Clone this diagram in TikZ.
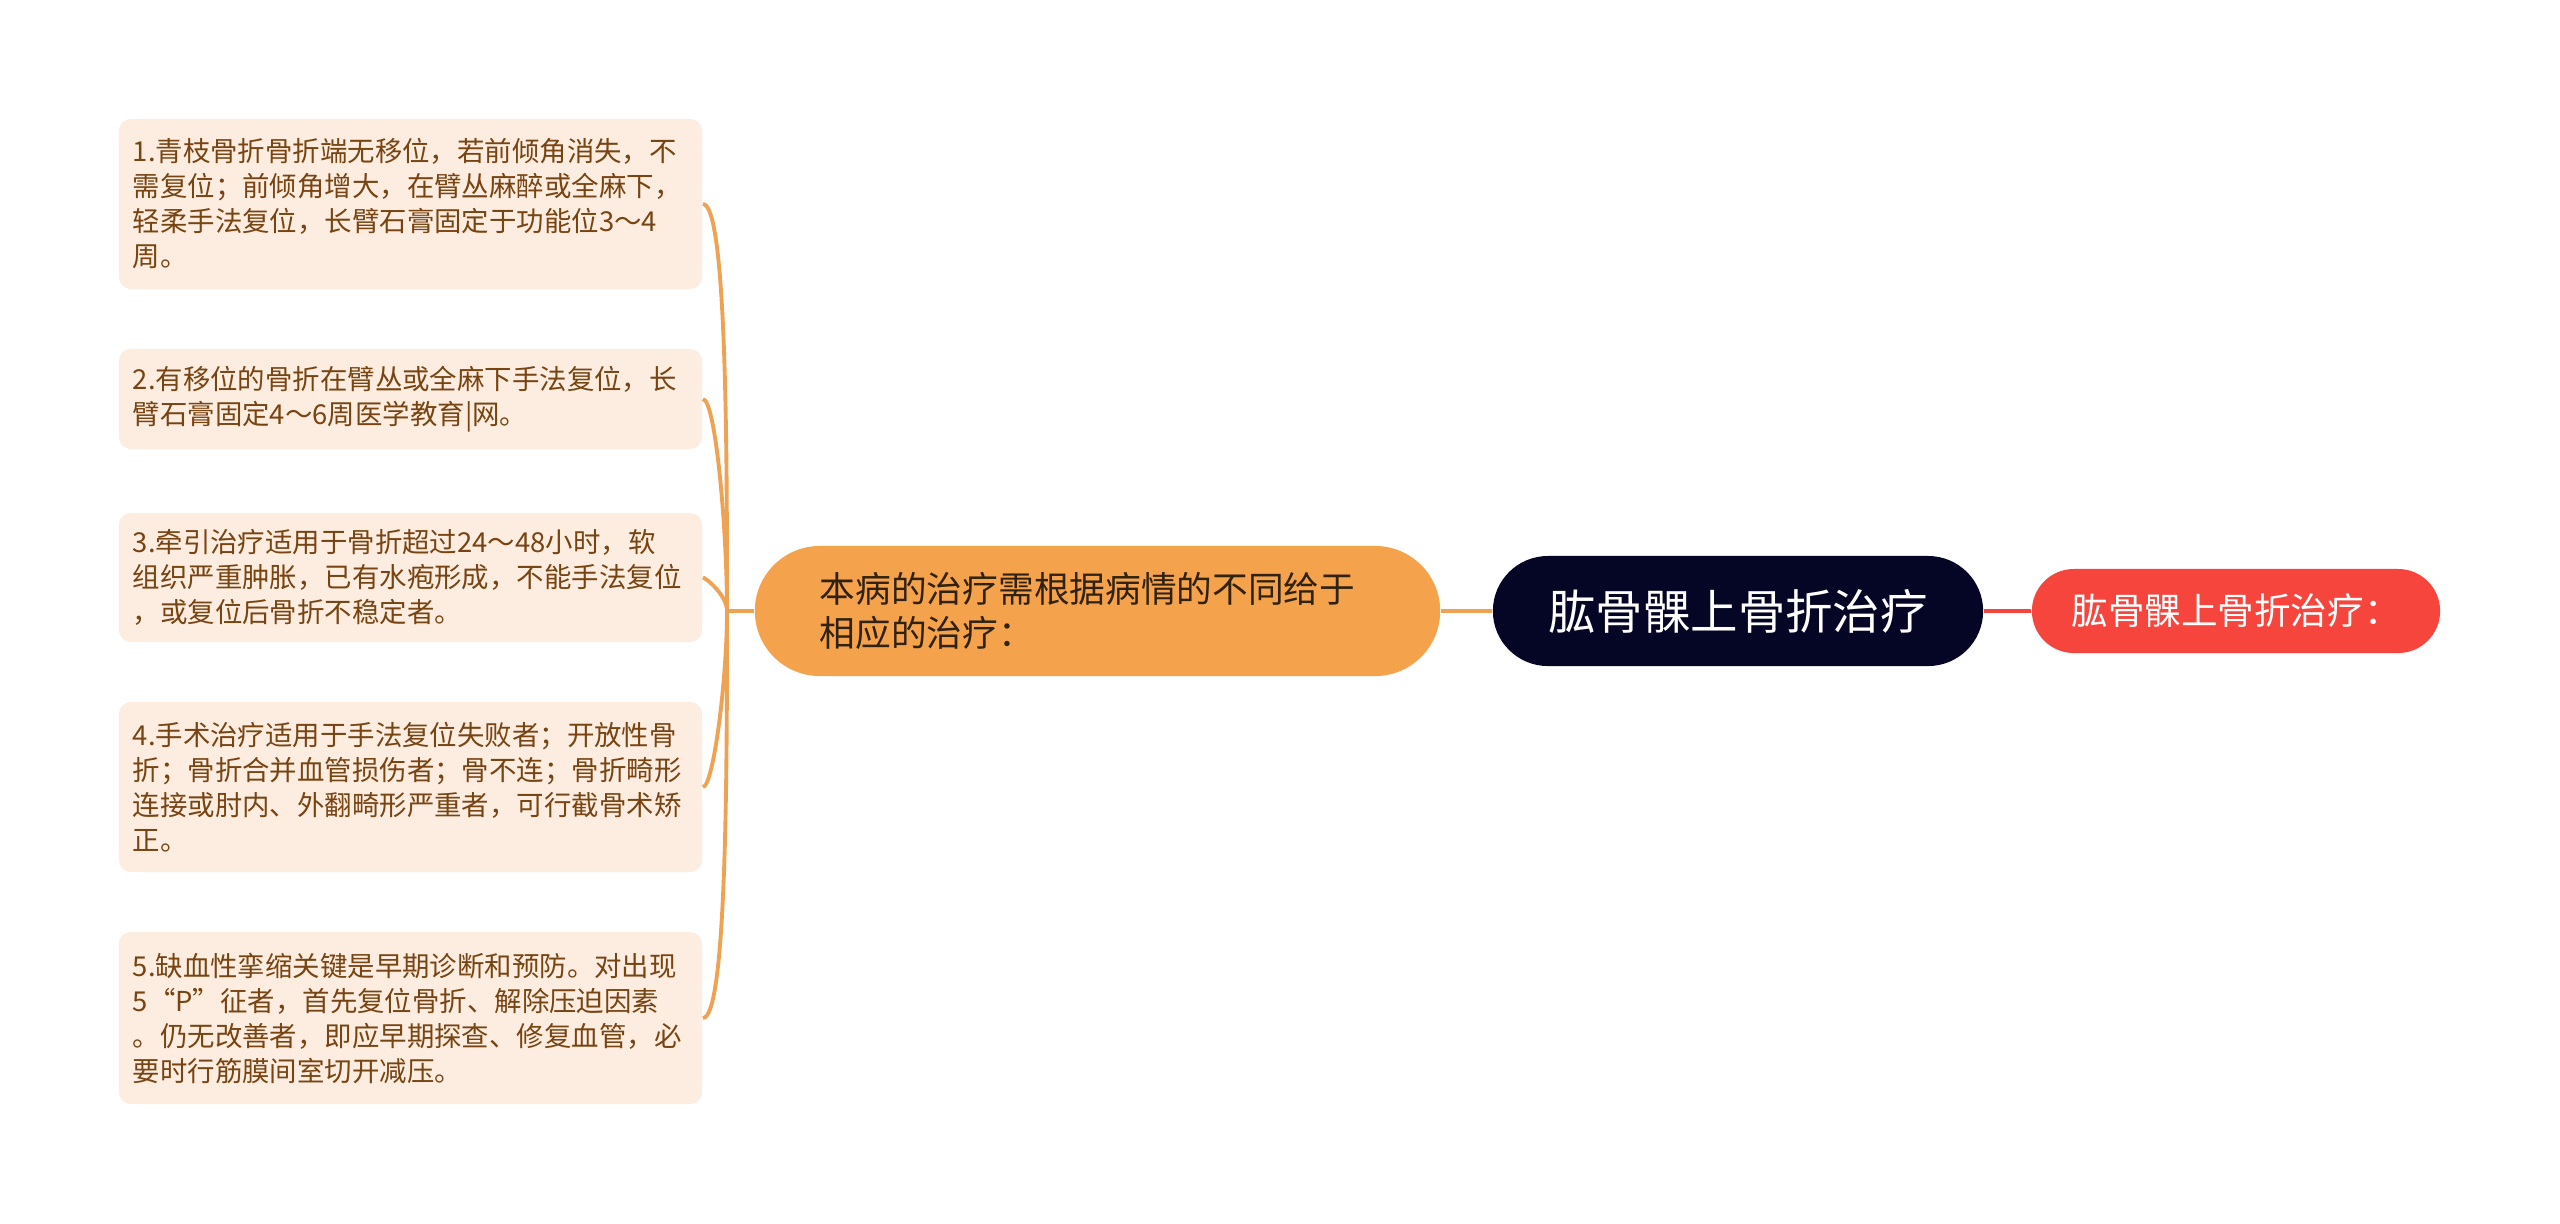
\documentclass[tikz,border=0pt]{standalone}
\usepackage{fontspec}
\setmainfont{Noto Sans CJK SC}
\usepackage{tikz}
\definecolor{leaffill}{RGB}{253,237,224}
\definecolor{leaftext}{RGB}{120,68,18}
\definecolor{topicfill}{RGB}{245,162,76}
\definecolor{topictext}{RGB}{48,34,14}
\definecolor{rootfill}{RGB}{5,6,38}
\definecolor{tagfill}{RGB}{245,69,60}
\definecolor{twigcol}{RGB}{238,163,84}
\tikzset{leaf/.style={rectangle, rounded corners=0.12cm, fill=leaffill, text=leaftext, text width=5.55cm, inner xsep=0.14cm, inner ysep=0pt, align=left, font=\fontsize{7.8pt}{9.96pt}\selectfont}}
\tikzset{pill/.style={rectangle, inner sep=0pt, align=center}}
\tikzset{twig/.style={draw=twigcol, line width=1.1pt}}

\begin{document}
\begin{tikzpicture}[x=0.01cm,y=0.01cm]
	\useasboundingbox (0,0) rectangle (2560,-1223);
	\node[leaf, minimum height=1.70cm] (b1) at (410.5,-204) {1.青枝骨折骨折端无移位，若前倾角消失，不\\需复位；前倾角增大，在臂丛麻醉或全麻下，\\轻柔手法复位，长臂石膏固定于功能位3～4\\周。};
	\node[leaf, minimum height=1.00cm] (b2) at (410.5,-399) {2.有移位的骨折在臂丛或全麻下手法复位，长\\臂石膏固定4～6周医学教育|网。};
	\node[leaf, minimum height=1.29cm] (b3) at (410.5,-577.5) {3.牵引治疗适用于骨折超过24～48小时，软\\组织严重肿胀，已有水疱形成，不能手法复位\\，或复位后骨折不稳定者。};
	\node[leaf, minimum height=1.70cm] (b4) at (410.5,-787) {4.手术治疗适用于手法复位失败者；开放性骨\\折；骨折合并血管损伤者；骨不连；骨折畸形\\连接或肘内、外翻畸形严重者，可行截骨术矫\\正。};
	\node[leaf, minimum height=1.72cm] (b5) at (410.5,-1018) {5.缺血性挛缩关键是早期诊断和预防。对出现\\5“P”征者，首先复位骨折、解除压迫因素\\。仍无改善者，即应早期探查、修复血管，必\\要时行筋膜间室切开减压。};
	\node[pill, fill=topicfill, text=topictext, rounded corners=0.65cm, minimum height=1.30cm, text width=5.55cm, inner xsep=0.65cm, align=left, font=\fontsize{10.15pt}{12.5pt}\selectfont] (topic) at (1097.5,-611) {本病的治疗需根据病情的不同给于\\相应的治疗：};
	\node[pill, fill=rootfill, text=white, rounded corners=0.55cm, minimum width=4.90cm, minimum height=1.10cm, font=\fontsize{13.5pt}{16pt}\selectfont] (root) at (1738,-611) {肱骨髁上骨折治疗};
	\node[pill, fill=tagfill, text=white, rounded corners=0.42cm, minimum width=4.08cm, minimum height=0.84cm, font=\fontsize{10.4pt}{12pt}\selectfont] (tag) at (2236,-611) {肱骨髁上骨折治疗：};
	\coordinate (hub) at (727,-611);
	\draw[twig] (topic.west) -- (hub);
	\foreach \b/\d in {b1/90,b2/90,b3/90,b4/-90,b5/-90}
		\draw[twig] (\b.east) to[out=0, in=\d, out looseness=0.15, in looseness=1] (hub);
	\draw[twig] (topic.east) -- (root.west);
	\draw[draw=tagfill, line width=1.1pt] (root.east) -- (tag.west);
\end{tikzpicture}
\end{document}
